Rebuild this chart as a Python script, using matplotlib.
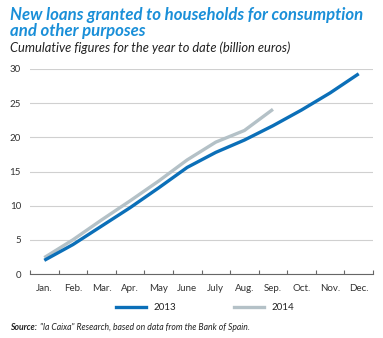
import numpy as np
import matplotlib.pyplot as plt

# Data (billion euros, cumulative)
months = ['Jan.', 'Feb.', 'Mar.', 'Apr.', 'May', 'June', 'July', 'Aug.', 'Sep.', 'Oct.', 'Nov.', 'Dec.']
loans_2013 = [2.0, 4.3, 7.0, 9.7, 12.6, 15.6, 17.8, 19.6, 21.7, 24.0, 26.5, 29.3]
loans_2014 = [2.4, 5.0, 7.9, 10.7, 13.6, 16.7, 19.3, 21.0, 24.1]

blue = '#0b6fb8'
grey = '#b4c1c7'
title_blue = '#1a8fd8'
font = 'Lato'

fig = plt.figure(figsize=(3.83, 3.38), dpi=100)
ax = fig.add_axes([30 / 383, 1 - 274 / 338, 343 / 383, 205 / 338])

x = np.arange(len(months))
ax.plot(x[:len(loans_2014)], loans_2014, color=grey, lw=2.4, solid_capstyle='butt', label='2014')
ax.plot(x, loans_2013, color=blue, lw=2.4, solid_capstyle='butt', label='2013')

ax.set_xlim(-0.5, 11.5)
ax.set_ylim(0, 30)
ax.set_yticks(range(0, 31, 5))
ax.set_xticks(np.arange(-0.5, 12, 1))
ax.set_xticklabels([])
ax.set_xticks(x, minor=True)
ax.set_xticklabels(months, minor=True, fontsize=7, family=font)
ax.tick_params(axis='x', which='minor', length=0, pad=7, colors='#333333')
ax.tick_params(axis='x', which='major', direction='in', length=3, color='#666666')
ax.tick_params(axis='y', length=0, labelsize=7, pad=6.5, colors='#333333')
for lab in ax.get_yticklabels():
    lab.set_family(font)
ax.grid(axis='y', color='#d0d0d0', lw=0.8)
ax.set_axisbelow(True)
for s in ['top', 'right', 'left']:
    ax.spines[s].set_visible(False)
ax.spines['bottom'].set_color('#666666')
ax.spines['bottom'].set_linewidth(0.8)

# legend drawn by hand in figure coords
fig.lines.append(plt.Line2D([116 / 383, 146 / 383], [1 - 307 / 338] * 2, color=blue, lw=2.4,
                            transform=fig.transFigure))
fig.text(153 / 383, 1 - 307 / 338, '2013', fontsize=7, family=font, va='center', color='#222222')
fig.lines.append(plt.Line2D([234 / 383, 264 / 383], [1 - 307 / 338] * 2, color=grey, lw=2.4,
                            transform=fig.transFigure))
fig.text(272 / 383, 1 - 307 / 338, '2014', fontsize=7, family=font, va='center', color='#222222')

# titles
fig.text(10 / 383, 1 - 15 / 338, 'New loans granted to households for consumption',
         fontsize=12.1, fontweight='bold', style='italic', color=title_blue, family=font, va='center')
fig.text(10 / 383, 1 - 31 / 338, 'and other purposes',
         fontsize=12.1, fontweight='bold', style='italic', color=title_blue, family=font, va='center')
fig.text(10 / 383, 1 - 48 / 338, 'Cumulative figures for the year to date (billion euros)',
         fontsize=9.3, style='italic', color='#222222', family=font, va='center')

# source
fig.text(10 / 383, 1 - 327 / 338, 'Source:', fontsize=6.2, fontweight='bold', style='italic',
         family=font, va='center', color='#222222')
fig.text(40 / 383, 1 - 327 / 338, '"la Caixa" Research, based on data from the Bank of Spain.',
         fontsize=6.2, style='italic', family=font, va='center', color='#222222')

fig.savefig('out.png', dpi=100)
